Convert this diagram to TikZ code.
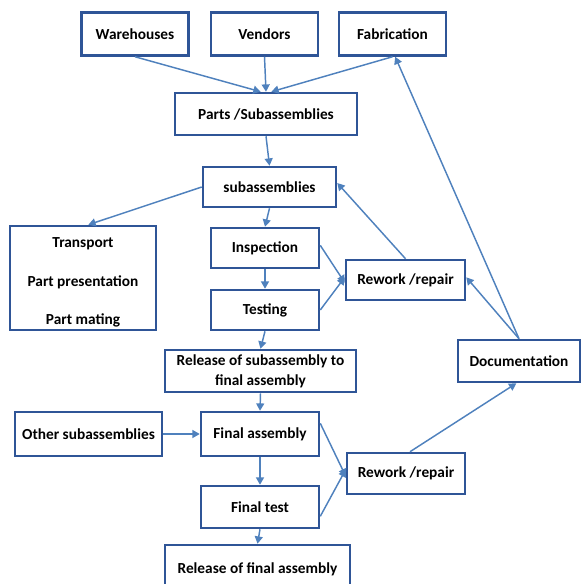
\documentclass[tikz,border=0pt]{standalone}
\usepackage{fontspec}
\setmainfont{Carlito}
\usetikzlibrary{arrows.meta}

\definecolor{boxblue}{RGB}{47,85,151}
\definecolor{arrblue}{RGB}{79,129,189}

\tikzset{every picture/.style={line width=0.75pt}}
\tikzset{
  blk/.style 2 args={draw=boxblue, line width=1.9pt, fill=white, align=center, inner sep=0pt,
    font=\bfseries\fontsize{11.5}{15}\selectfont,
    minimum width=#1*0.75pt, minimum height=#2*0.75pt},
  arr/.style={draw=arrblue, line width=1.1pt, -{Triangle[length=5.5pt,width=6pt]}}
}

\begin{document}
\begin{tikzpicture}[x=0.75pt,y=0.75pt,yscale=-1,xscale=1]
\path[use as bounding box] (0,0) rectangle (584,584);
\begin{scope}
\clip (0,0) rectangle (584,584);

% Text Node
\node (ware) at (135,34) [blk={107}{43}] {Warehouses};
% Text Node
\node (vend) at (264.5,34) [blk={107}{43}] {Vendors};
% Text Node
\node (fab) at (392.5,34) [blk={107}{43}] {Fabrication};
% Text Node
\node (parts) at (266,114) [blk={182}{42}] {Parts /Subassemblies};
% Text Node
\node (subas) at (269.5,187) [blk={133}{40}] {subassemblies};
% Text Node
\node (trans) at (83,278) [blk={146}{104}] {\rule{0pt}{14pt}Transport\\[14pt]Part presentation\\[14pt]Part mating};
% Text Node
\node (insp) at (265,248) [blk={108}{40}] {Inspection};
% Text Node
\node (test) at (265,310) [blk={108}{40}] {Testing};
% Text Node
\node (rewa) at (405.5,280) [blk={119}{40}] {Rework /repair};
% Text Node
\node (rela) at (260.5,371) [blk={191}{42}] {Release of subassembly to\\final assembly};
% Text Node
\node (doc) at (519,361) [blk={122}{42}] {Documentation};
% Text Node
\node (other) at (88.5,434) [blk={147}{44}] {Other subassemblies};
% Text Node
\node (fasm) at (260,434) [blk={118}{44}] {Final assembly};
% Text Node
\node (rewb) at (406,473.5) [blk={118}{41}] {Rework /repair};
% Text Node
\node (ftest) at (260,507) [blk={118}{42}] {Final test};
% Text Node
\node (relb) at (257.5,569) [blk={185}{48}] {Release of final assembly};

%Straight Lines
\draw [arr] (ware.south) -- ([xshift=-4pt]parts.north);
\draw [arr] (vend.south) -- (parts.north);
\draw [arr] (fab.south) -- ([xshift=4pt]parts.north);
\draw [arr] (parts.south) -- (subas.north);
\draw [arr] (subas.west) -- ([xshift=4pt]trans.north);
\draw [arr] (subas.south) -- (insp.north);
\draw [arr] (insp.south) -- (test.north);
\draw [arr] ([yshift=-2pt]insp.east) -- ([yshift=2pt]rewa.west);
\draw [arr] (test.east) -- ([yshift=-2pt]rewa.west);
\draw [arr] (rewa.north) -- ([yshift=-3pt]subas.east);
\draw [arr] (doc.north) -- ([yshift=-2pt]rewa.east);
\draw [arr] (doc.north) -- ([xshift=2pt]fab.south);
\draw [arr] (test.south) -- (rela.north);
\draw [arr] (rela.south) -- (fasm.north);
\draw [arr] (other.east) -- (fasm.west);
\draw [arr] (fasm.south) -- (ftest.north);
\draw [arr] ([yshift=-8pt]fasm.east) -- ([yshift=2pt]rewb.west);
\draw [arr] ([yshift=7pt]ftest.east) -- ([yshift=-3pt]rewb.west);
\draw [arr] ([xshift=3pt]rewb.north) -- ([xshift=-2pt]doc.south);
\draw [arr] (ftest.south) -- (relb.north);

\end{scope}
\end{tikzpicture}
\end{document}
